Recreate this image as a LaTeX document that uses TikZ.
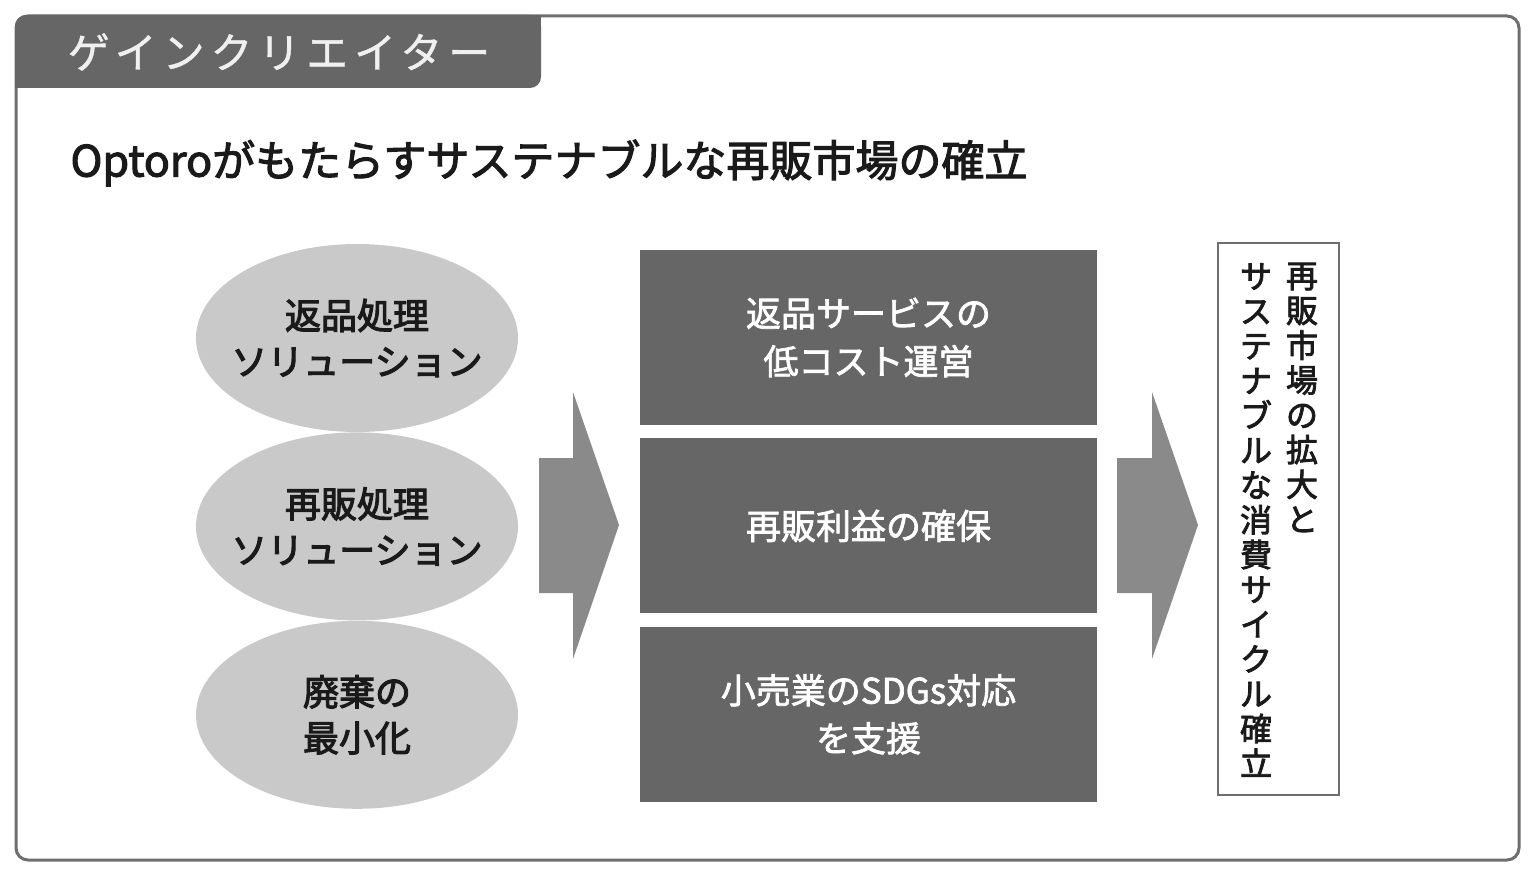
\documentclass[tikz,border=0pt]{standalone}
\usepackage{fontspec}
\setmainfont{Noto Sans CJK JP}
\usetikzlibrary{positioning,shapes.geometric}

\definecolor{framegrey}{HTML}{6E6E6E}
\definecolor{tabgrey}{HTML}{666666}
\definecolor{ovalgrey}{HTML}{C9C9C9}
\definecolor{boxgrey}{HTML}{666666}
\definecolor{arrowgrey}{HTML}{8A8A8A}
\definecolor{inkblack}{HTML}{1A1A1A}

\begin{document}
\begin{tikzpicture}[x=1pt, y=-1pt, node distance={13pt},
    solution/.style = {ellipse, fill=ovalgrey, minimum width=322pt, minimum height=188pt, inner sep=0pt},
    soltext/.style = {align=center, text=inkblack, font=\fontsize{36}{46}\selectfont\addfontfeatures{FakeBold=3}},
    effect/.style = {rectangle, fill=boxgrey, minimum width=457pt, minimum height=175pt, align=center, text=white, font=\fontsize{35}{48}\selectfont\addfontfeatures{FakeBold=2}},
    vtext/.style = {align=center, inner sep=0pt, text=inkblack, font=\fontsize{32}{34.8}\selectfont\addfontfeatures{FakeBold=2.5}}]
\useasboundingbox (0,0) rectangle (1536,877);
% frame and title tab
\draw[framegrey, line width=3pt, rounded corners=12pt] (16,16) rectangle (1519,860);
\fill[tabgrey, rounded corners=11pt] (15,15) rectangle (541,88);
\fill[tabgrey] (15,60) rectangle (50,88);
\fill[tabgrey] (500,15) rectangle (541,50);
\node[text=white!94!black, font=\fontsize{42}{42}\selectfont\addfontfeatures{LetterSpace=14,FakeBold=1}] (tab) at (279,52) {ゲインクリエイター};
\node[anchor=west, text=inkblack, font=\fontsize{43}{43}\selectfont\addfontfeatures{FakeBold=2.5}] (heading) at (67,163) {Optoroがもたらすサステナブルな再販市場の確立};
% left: solutions
\node[solution] (s1) at (357,338) {};
\node[solution] (s2) [below=0pt of s1] {};
\node[solution] (s3) [below=0pt of s2] {};
\node[soltext] at (s1) {返品処理\\ソリューション};
\node[soltext] at (s2) {再販処理\\ソリューション};
\node[soltext] at (s3) {廃棄の\\最小化};
% arrows
\fill[arrowgrey] (539,458) -- (573,458) -- (573,392) -- (619,525) -- (573,659) -- (573,593) -- (539,593) -- cycle;
\fill[arrowgrey] (1117,458) -- (1152,458) -- (1152,392) -- (1198,525) -- (1152,659) -- (1152,593) -- (1117,593) -- cycle;
% middle: effects
\node[effect] (e1) at (868.5,337.5) {返品サービスの\\低コスト運営};
\node[effect] (e2) [below=of e1] {再販利益の確保};
\node[effect] (e3) [below=of e2] {小売業のSDGs対応\\を支援};
% right: goal
\node[draw=framegrey, line width=2pt, fill=white, minimum width=121pt, minimum height=552pt] (goal) at (1278.5,519) {};
\node[vtext] (g1) at (1302,397.5) {再\\販\\市\\場\\の\\拡\\大\\と};
\node[vtext] (g2) at (1256,520) {サ\\ス\\テ\\ナ\\ブ\\ル\\な\\消\\費\\サ\\イ\\ク\\ル\\確\\立};
\end{tikzpicture}
\end{document}
